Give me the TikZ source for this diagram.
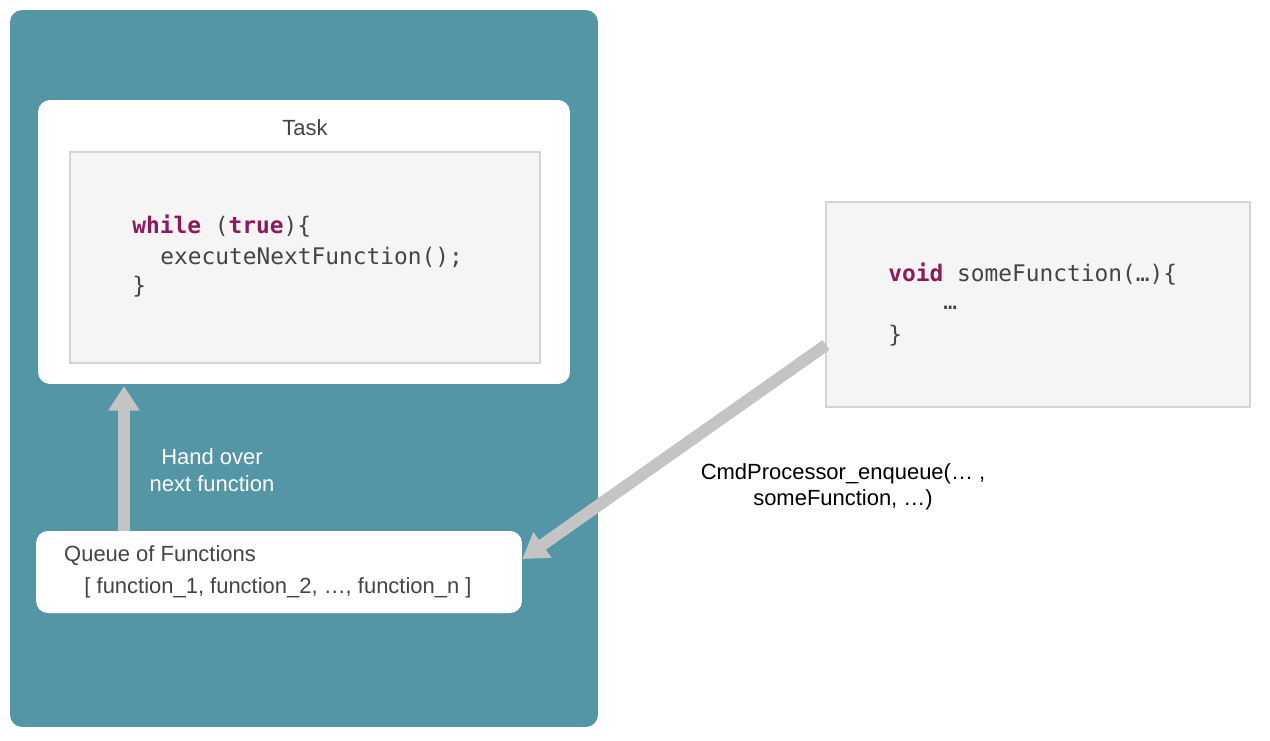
\documentclass[tikz,border=0pt]{standalone}
\usepackage{fontspec}
\setmainfont{Liberation Sans}
\setmonofont{DejaVu Sans Mono}
\usetikzlibrary{arrows.meta}
\definecolor{teal}{HTML}{5596A6}
\definecolor{codebg}{HTML}{F5F5F5}
\definecolor{codeframe}{HTML}{D4D4D4}
\definecolor{keyword}{HTML}{8E1A5C}
\definecolor{codetext}{HTML}{444444}
\definecolor{arrowgray}{HTML}{C4C4C4}
\newcommand{\kw}[1]{\textcolor{keyword}{\textbf{#1}}}
\begin{document}
\begin{tikzpicture}[x=0.02cm,y=-0.02cm]
    % `panel' is the white rounded box, `code' the grey listing box.
    \tikzstyle{panel} = [fill=white,rounded corners=2.4mm,inner sep=0pt]
    \tikzstyle{code} = [fill=codebg,draw=codeframe,line width=1.5pt,inner sep=0pt]
    \tikzstyle{listing} = [anchor=west,inner sep=0pt,font=\ttfamily\fontsize{13}{15}\selectfont,text=codetext]
    \tikzstyle{flow} = [line width=6.8pt,draw=arrowgray,-{Triangle[width=17pt,length=14pt,fill=arrowgray]}]
    \useasboundingbox (0,0) rectangle (1270,740);
    %
    \node[fill=teal,rounded corners=2.4mm,minimum width=11.76cm,minimum height=14.34cm] (core) at (304,368.5) {};
    \node[panel,minimum width=10.64cm,minimum height=5.68cm] (task) at (304,242) {};
    \node[text=codetext,font=\fontsize{12.5}{14}\selectfont] (tasklabel) at (305,128) {Task};
    \node[code,minimum width=9.4cm,minimum height=4.22cm] (loop) at (305,257.5) {};
    \node[listing] (l1) at (132,226) {\kw{while} (\kw{true})\{};
    \node[listing] (l2) at (160,257) {executeNextFunction();};
    \node[listing] (l3) at (132,287) {\}};
    %
    \node[code,minimum width=8.48cm,minimum height=4.1cm] (caller) at (1038,304.5) {};
    \node[listing] (c1) at (888,274) {\kw{void} someFunction(…)\{};
    \node[listing] (c2) at (943,308) {…};
    \node[listing] (c3) at (888,336) {\}};
    %
    \node[panel,minimum width=9.72cm,minimum height=1.64cm] (queue) at (279,572) {};
    \node[anchor=west,text=codetext,font=\fontsize{12.5}{14}\selectfont] (qtitle) at (58,556) {Queue of Functions};
    \node[text=codetext,font=\fontsize{12.5}{14}\selectfont] (qlist) at (278,588) {[ function\_1, function\_2, …, function\_n ]};
    %
    \coordinate (upstart) at (124,531);
    \coordinate (upend) at (124,386);
    \draw[flow] (upstart) -- (upend);
    \node[text=white,align=center,font=\fontsize{12.5}{15}\selectfont] (handover) at (212,470) {Hand over\\next function};
    %
    \coordinate (enqstart) at (826,345);
    \draw[flow] (enqstart) -- (queue.east |- 0,559);
    \node[align=center,font=\fontsize{12.5}{15}\selectfont] (enqueue) at (843,487) {CmdProcessor\_enqueue(… ,\\someFunction, …)};
\end{tikzpicture}
\end{document}
